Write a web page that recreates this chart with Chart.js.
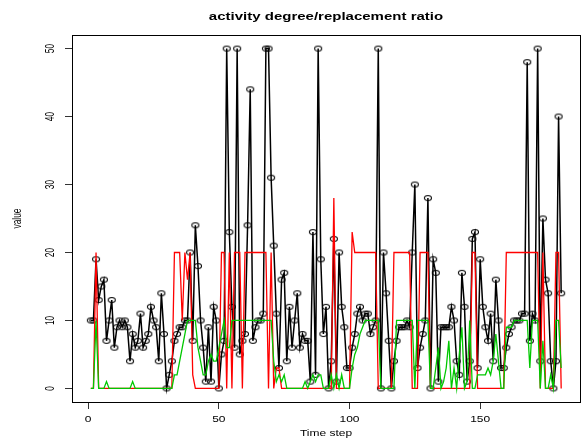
<!DOCTYPE html>
<html>
<head>
<meta charset="utf-8">
<script src="https://cdn.jsdelivr.net/npm/chart.js@4.4.1/dist/chart.umd.min.js"></script>
<style>
  html, body { margin: 0; padding: 0; background: #fff; }
</style>
</head>
<body>
<canvas id="activityChart" width="586" height="439"></canvas>
<script>
// activity degree (black, with circles)
const activity = [
  10,10,19,13,15,16,7,10,13,6,
  9,10,9,10,9,4,8,6,7,11,
  6,7,8,12,10,9,4,14,8,0,
  2,4,7,8,9,9,10,10,20,7,
  24,18,10,6,1,9,1,12,10,0,
  5,7,50,23,12,6,50,5,7,8,
  24,44,7,9,10,10,11,50,50,31,
  21,11,3,16,17,4,12,6,10,14,
  6,8,7,7,1,23,2,50,19,8,
  12,0,4,22,1,20,12,9,3,3,
  6,8,11,12,10,11,11,8,9,10,
  50,0,20,14,7,0,4,7,9,9,
  9,10,9,20,30,3,6,8,10,28,
  0,19,17,1,9,9,9,9,12,10,
  4,2,17,12,1,4,22,23,3,19,
  12,9,7,11,4,16,10,3,3,6,
  8,9,10,10,10,11,11,48,7,11,
  10,50,4,25,16,14,4,0,4,40,14
];
// replacement (red)
const replacement = [
  0,0,20,0,0,0,0,0,0,0,
  0,0,0,0,0,0,0,0,0,0,
  0,0,0,0,0,0,0,0,0,0,
  0,0,20,20,20,10,20,16,20,2,
  0,0,0,0,0,0,0,0,0,0,
  20,20,0,20,0,20,20,20,0,20,
  20,20,20,20,20,20,20,20,0,20,
  0,3,3,0,0,0,0,0,0,0,
  0,0,0,0,0,0,0,0,0,0,
  0,0,0,28,0,0,0,0,0,0,
  23,20,20,20,20,20,20,20,20,20,
  0,0,0,0,0,0,20,20,20,20,
  20,20,20,0,0,0,20,20,20,20,
  0,0,0,0,0,0,0,0,0,0,
  0,0,0,0,0,0,20,20,0,0,
  0,0,0,0,0,0,0,0,0,20,
  20,20,20,20,20,20,20,20,20,20,
  20,20,0,20,0,0,0,0,20,20,0
];
// ratio (green)
const ratio = [
  0,0,10,0,0,0,1,0,0,0,
  0,0,0,0,0,0,1,0,0,0,
  0,0,0,0,0,0,0,0,0,0,
  0,0,2,2,4,6,8,10,10,10,
  10,6,4,2,2,4,5,4,4,6,
  8,10,6,6,10,10,10,10,10,10,
  10,10,10,10,10,10,10,10,10,10,
  4,1,2,1,2,0,0,0,0,0,
  0,0,1,0,1,2,1,2,2,0,
  0,0,2,0,2,0,2,0,0,0,
  3,5,6,8,9,10,10,10,10,10,
  10,0,0,0,0,0,0,10,10,10,
  10,10,10,10,0,10,10,10,10,10,
  0,0,3,6,0,1,3,7,0,3,
  0,5,9,0,1,10,0,0,2,2,
  2,2,3,2,4,8,4,0,0,9,
  9,9,10,10,10,10,10,10,3,10,
  10,10,0,7,0,0,2,0,10,10,3
];
const xTicks = [0, 50, 100, 150];
const yTicks = [0, 10, 20, 30, 40, 50];

const FONT = '"Liberation Sans", Arial, Helvetica, sans-serif';
const SQUASH = 0.7; // the original picture is flattened vertically
const toPoints = arr => arr.map((v, k) => ({ x: k + 1, y: v }));

// open circle marker, R pch = 1 (flattened like the rest of the picture)
const marker = document.createElement('canvas');
marker.width = 10;
marker.height = 8;
const mctx = marker.getContext('2d');
mctx.strokeStyle = '#000';
mctx.lineWidth = 1.1;
mctx.beginPath();
mctx.ellipse(5, 4, 3.5, 2.5, 0, 0, Math.PI * 2);
mctx.stroke();

function flatText(ctx, text, x, y, font) {
  ctx.save();
  ctx.font = font;
  ctx.translate(x, y);
  ctx.scale(1, SQUASH);
  ctx.fillText(text, 0, 0);
  ctx.restore();
}
function upText(ctx, text, x, y, font) {
  ctx.save();
  ctx.font = font;
  ctx.translate(x, y);
  ctx.rotate(-Math.PI / 2);
  ctx.scale(SQUASH, 1);
  ctx.fillText(text, 0, 0);
  ctx.restore();
}

// R style frame: box, title, axis labels
const rFrame = {
  id: 'rFrame',
  afterDraw(chart) {
    const { ctx, chartArea: a, scales } = chart;
    const midX = (a.left + a.right) / 2;
    const midY = (a.top + a.bottom) / 2;
    ctx.save();
    ctx.strokeStyle = '#000';
    ctx.lineWidth = 1;
    ctx.strokeRect(Math.round(a.left) + 0.5, Math.round(a.top) + 0.5,
      Math.round(a.right - a.left), Math.round(a.bottom - a.top));
    ctx.fillStyle = '#000';
    ctx.textAlign = 'center';
    ctx.textBaseline = 'middle';
    flatText(ctx, 'activity degree/replacement ratio', midX, 17.5, 'bold 15px ' + FONT);
    scales.x.ticks.forEach(t => {
      flatText(ctx, String(t.value), scales.x.getPixelForValue(t.value), a.bottom + 18, '12px ' + FONT);
    });
    scales.y.ticks.forEach(t => {
      upText(ctx, String(t.value), a.left - 21, scales.y.getPixelForValue(t.value), '12px ' + FONT);
    });
    flatText(ctx, 'Time step', midX, a.bottom + 32, '12px ' + FONT);
    upText(ctx, 'value', 18, midY, '12px ' + FONT);
    ctx.restore();
  }
};

new Chart(document.getElementById('activityChart'), {
  type: 'line',
  data: {
    datasets: [{
      label: 'activity',
      data: toPoints(activity),
      borderColor: '#000',
      borderWidth: 1.5,
      pointStyle: marker,
      pointRadius: 3,
      order: 3
    }, {
      label: 'replacement',
      data: toPoints(replacement),
      borderColor: '#ff0000',
      borderWidth: 1.3,
      pointRadius: 0,
      order: 2
    }, {
      label: 'ratio',
      data: toPoints(ratio),
      borderColor: '#00c800',
      borderWidth: 1.3,
      pointRadius: 0,
      order: 1
    }]
  },
  options: {
    responsive: false,
    animation: false,
    events: [],
    layout: { padding: { left: 0, right: 6, top: 35, bottom: 0 } },
    elements: { line: { tension: 0 } },
    plugins: {
      legend: { display: false },
      tooltip: { enabled: false },
      title: { display: false }
    },
    scales: {
      x: {
        type: 'linear',
        min: -6.2,
        max: 188.2,
        afterBuildTicks: s => { s.ticks = xTicks.map(v => ({ value: v })); },
        afterFit: s => { s.height = 37; },
        border: { display: false },
        grid: { drawOnChartArea: false, drawTicks: true, tickLength: 7, color: '#333' },
        ticks: { display: false }
      },
      y: {
        min: -2,
        max: 52,
        afterBuildTicks: s => { s.ticks = yTicks.map(v => ({ value: v })); },
        afterFit: s => { s.width = 72; },
        border: { display: false },
        grid: { drawOnChartArea: false, drawTicks: true, tickLength: 7, color: '#333' },
        ticks: { display: false }
      }
    }
  },
  plugins: [rFrame]
});
</script>
</body>
</html>
